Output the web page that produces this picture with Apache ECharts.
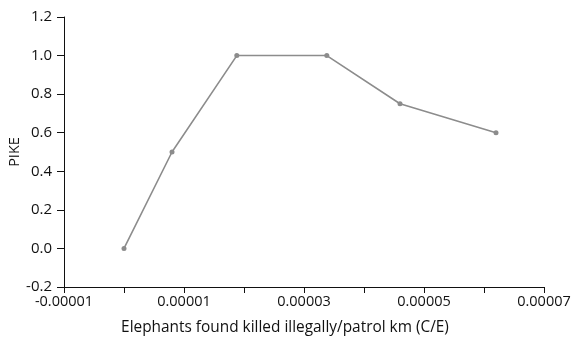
<!DOCTYPE html>
<html>
<head>
<meta charset="utf-8">
<script src="https://cdn.jsdelivr.net/npm/echarts@6/dist/echarts.min.js"></script>
<style>
  html, body { margin: 0; padding: 0; background: #fff; }
  #chart { width: 571px; height: 338px; }
</style>
</head>
<body>
<div id="chart"></div>
<script>
// Carcasses found per patrol km (C/E) against PIKE
const ceValues = [0, 0.0000080, 0.0000188, 0.0000338, 0.0000460, 0.0000620];
const pikeValues = [0, 0.5, 1.0, 1.0, 0.75, 0.6];
const xTickLabels = ['-0.00001', '0.00001', '0.00003', '0.00005', '0.00007'];
const yTickLabels = ['-0.2', '0.0', '0.2', '0.4', '0.6', '0.8', '1.0', '1.2'];

const points = ceValues.map((x, i) => [x, pikeValues[i]]);
const fontFamily = '"Open Sans", "Noto Sans", sans-serif';

const chart = echarts.init(document.getElementById('chart'), null, { renderer: 'canvas' });
chart.setOption({
  animation: false,
  grid: { left: 64, right: 27, top: 17, bottom: 51, containLabel: false, outerBoundsMode: 'none' },
  xAxis: {
    type: 'value',
    min: -0.00001,
    max: 0.00007,
    interval: 0.00001,
    name: 'Elephants found killed illegally/patrol km (C/E)',
    nameLocation: 'middle',
    nameGap: 33,
    nameMoveOverlap: false,
    nameTextStyle: { color: '#111', fontSize: 15.4, fontFamily, padding: [0, 38, 0, 0] },
    axisLine: { onZero: false, lineStyle: { color: '#111', width: 1 } },
    axisTick: { length: 6, lineStyle: { color: '#111' } },
    axisLabel: {
      color: '#111', fontSize: 14.5, fontFamily, margin: 7,
      formatter: v => {
        const k = Math.round(v / 0.00001);
        if (k % 2 === 0) return '';
        return xTickLabels[(k + 1) / 2];
      }
    },
    splitLine: { show: false }
  },
  yAxis: {
    type: 'value',
    min: -0.2,
    max: 1.2,
    interval: 0.2,
    name: 'PIKE',
    nameLocation: 'middle',
    nameGap: 42,
    nameMoveOverlap: false,
    nameRotate: 90,
    nameTextStyle: { color: '#111', fontSize: 14.5, fontFamily },
    axisLine: { show: true, onZero: false, lineStyle: { color: '#111', width: 1 } },
    axisTick: { show: true, length: 7, lineStyle: { color: '#111' } },
    axisLabel: {
      color: '#111', fontSize: 15, fontFamily, margin: 12,
      formatter: v => yTickLabels[Math.round((v + 0.2) / 0.2)]
    },
    splitLine: { show: false }
  },
  series: [{
    type: 'line',
    data: points,
    symbol: 'circle',
    symbolSize: 5,
    lineStyle: { color: '#8c8c8c', width: 1.6 },
    itemStyle: { color: '#8c8c8c' }
  }]
});
</script>
</body>
</html>
